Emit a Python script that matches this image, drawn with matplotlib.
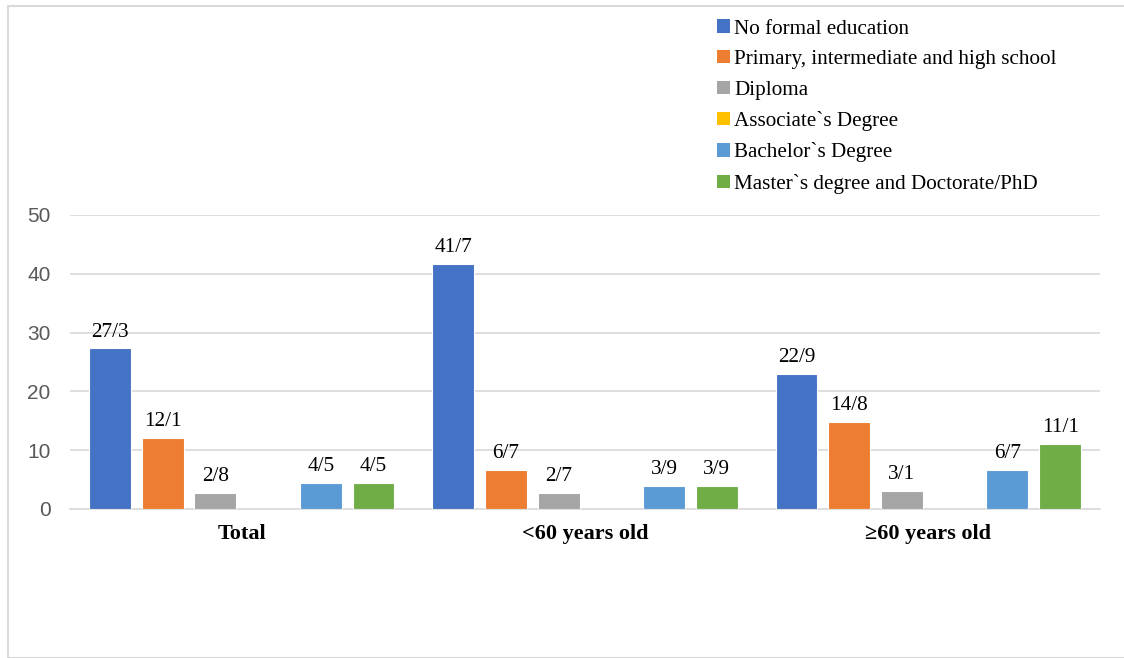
import matplotlib
matplotlib.use("Agg")
import matplotlib.pyplot as plt
from matplotlib.patches import Rectangle, Patch
import numpy as np

categories = ["Total", "<60 years old", "\u226560 years old"]
series_names = ["No formal education", "Primary, intermediate and high school",
                "Diploma", "Associate`s Degree", "Bachelor`s Degree",
                "Master`s degree and Doctorate/PhD"]
no_formal = [27.3, 41.7, 22.9]
primary = [12.1, 6.7, 14.8]
diploma = [2.8, 2.7, 3.1]
associate = [0.0, 0.0, 0.0]
bachelor = [4.5, 3.9, 6.7]
master = [4.5, 3.9, 11.1]
series_values = [no_formal, primary, diploma, associate, bachelor, master]
colors = ["#4472C4", "#ED7D31", "#A5A5A5", "#FFC000", "#5B9BD5", "#70AD47"]
yticks = [0, 10, 20, 30, 40, 50]

W, H = 1124, 658
fig = plt.figure(figsize=(W / 100, H / 100), dpi=100)
ax = fig.add_axes([70 / W, 1 - 509 / H, 1030 / W, (509 - 215) / H])

serif = ["Liberation Serif", "DejaVu Serif"]
slot = 0.1536
bw = 0.122
x = np.arange(len(categories))
for j, (vals, col) in enumerate(zip(series_values, colors)):
    pos = x + (j - 2.5) * slot
    bars = ax.bar(pos, vals, width=bw, color=col, edgecolor="white", linewidth=0.8, zorder=3)
    for b, v in zip(bars, vals):
        if v > 0:
            ax.annotate(f"{v:.1f}".replace(".", "/"), (b.get_x() + b.get_width() / 2, v),
                        xytext=(0, 5), textcoords="offset points", ha="center", va="bottom",
                        fontsize=15.3, family=serif, color="#000000")

ax.set_xlim(-0.5, 2.5)
ax.set_ylim(0, 50)
ax.set_yticks(yticks)
ax.set_yticklabels([str(t) for t in yticks], fontsize=15, color="#595959", family=["Liberation Sans", "DejaVu Sans"])
ax.set_xticks(x)
ax.set_xticklabels(categories, fontsize=16, fontweight="bold", family=["Liberation Serif", "DejaVu Serif"])
ax.tick_params(axis="both", length=0)
ax.tick_params(axis="x", pad=11)
ax.tick_params(axis="y", pad=14)
ax.grid(axis="y", color="#D9D9D9", linewidth=1.2, zorder=0)
for s in ["top", "right", "left"]:
    ax.spines[s].set_visible(False)
ax.spines["bottom"].set_color("#D9D9D9")
ax.spines["bottom"].set_linewidth(1.2)

handles = [Patch(facecolor=c, edgecolor="none") for c in colors]
leg = fig.legend(handles, series_names, loc="upper left", bbox_to_anchor=(709 / W, 1 - 11 / H),
                 frameon=False, prop={"family": serif, "size": 15.2},
                 handlelength=0.6, handleheight=0.6, handletextpad=0.2, labelspacing=0.54,
                 borderaxespad=0)

fig.patches.append(Rectangle((7.5 / W, 0.5 / H), 2.0, (652 / H), transform=fig.transFigure,
                             fill=False, edgecolor="#D9D9D9", linewidth=1.5))

fig.savefig("out.png", dpi=100)
